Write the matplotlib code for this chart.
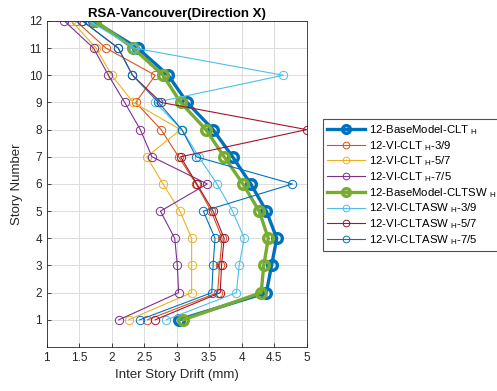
import matplotlib
matplotlib.use("Agg")
import matplotlib.pyplot as plt

plt.rcParams['font.family'] = ['Liberation Sans', 'DejaVu Sans']
plt.rcParams['mathtext.fontset'] = 'custom'
plt.rcParams['mathtext.rm'] = 'Liberation Sans'
plt.rcParams['mathtext.it'] = 'Liberation Sans'

stories = [1, 2, 3, 4, 5, 6, 7, 8, 9, 10, 11, 12]

base_clt = [3.03, 4.38, 4.46, 4.54, 4.38, 4.14, 3.86, 3.56, 3.16, 2.87, 2.40, 1.72]
clt_39 = [2.55, 3.63, 3.66, 3.70, 3.53, 3.30, 3.03, 2.76, 2.37, 2.67, 1.91, 1.45]
clt_57 = [2.26, 3.23, 3.23, 3.23, 3.05, 2.79, 2.54, 3.06, 2.33, 2.00, 1.76, 1.38]
clt_75 = [2.11, 3.03, 3.01, 2.97, 2.75, 3.47, 2.62, 2.44, 2.20, 1.95, 1.72, 1.27]
base_cltsw = [3.10, 4.30, 4.34, 4.41, 4.27, 4.02, 3.73, 3.45, 3.06, 2.79, 2.33, 1.75]
asw_39 = [2.84, 3.92, 3.96, 4.04, 3.86, 3.62, 3.34, 3.08, 2.67, 4.64, 2.35, 1.65]
asw_57 = [2.67, 3.67, 3.69, 3.73, 3.56, 3.31, 3.06, 5.00, 2.76, 2.32, 2.10, 1.55]
asw_75 = [2.43, 3.54, 3.56, 3.59, 3.41, 4.78, 3.30, 3.08, 2.72, 2.32, 2.10, 1.55]

labels = [
    r'12-BaseModel-CLT $_{\mathrm{H}}$',
    r'12-VI-CLT $_{\mathrm{H}}$-3/9',
    r'12-VI-CLT $_{\mathrm{H}}$-5/7',
    r'12-VI-CLT $_{\mathrm{H}}$-7/5',
    r'12-BaseModel-CLTSW $_{\mathrm{H}}$',
    r'12-VI-CLTASW $_{\mathrm{H}}$-3/9',
    r'12-VI-CLTASW $_{\mathrm{H}}$-5/7',
    r'12-VI-CLTASW $_{\mathrm{H}}$-7/5',
]
colors = ['#0072BD', '#D95319', '#EDB120', '#7E2F8E',
          '#77AC30', '#4DBEEE', '#A2142F', '#0072BD']
series = [base_clt, clt_39, clt_57, clt_75, base_cltsw, asw_39, asw_57, asw_75]
thick = [True, False, False, False, True, False, False, False]

fig = plt.figure(figsize=(4.97, 3.91), dpi=100)
ax = fig.add_axes([0.094, 0.1125, 0.523, 0.834])

handles = []
for vals, lab, col, th in zip(series, labels, colors, thick):
    if th:
        h, = ax.plot(vals, stories, '-o', color=col, lw=2.4, ms=7,
                     mfc='none', mew=2.4, label=lab)
    else:
        h, = ax.plot(vals, stories, '-o', color=col, lw=0.8, ms=6,
                     mfc='none', mew=0.7, label=lab)
    handles.append(h)

ax.set_xlim(1, 5)
ax.set_ylim(0, 12)
ax.set_xticks([1, 1.5, 2, 2.5, 3, 3.5, 4, 4.5, 5])
ax.set_xticklabels(['1', '1.5', '2', '2.5', '3', '3.5', '4', '4.5', '5'])
ax.set_yticks(stories)
ax.grid(True, color='#dcdcdc', lw=0.7)
ax.set_axisbelow(True)
for sp in ax.spines.values():
    sp.set_color('#262626')
    sp.set_linewidth(0.6)
ax.tick_params(direction='in', length=3, width=0.6, colors='#262626',
               labelsize=8.5, top=False, right=False)
ax.set_xlabel('Inter Story Drift (mm)', fontsize=9.5, color='#262626')
ax.set_ylabel('Story Number', fontsize=9.5, color='#262626')
ax.set_title('RSA-Vancouver(Direction X)', fontsize=9.5, fontweight='bold',
             color='black', pad=3)

leg = fig.legend(handles=handles, loc='upper left',
                 bbox_to_anchor=(323 / 497, 1 - 119 / 391),
                 fontsize=8.2, frameon=True, fancybox=False,
                 edgecolor='#262626', handlelength=3.3, handletextpad=0.35,
                 labelspacing=0.17, borderpad=0.35, borderaxespad=0,
                 markerscale=0.8)
leg.get_frame().set_linewidth(0.8)

fig.savefig('out.png', dpi=100)
